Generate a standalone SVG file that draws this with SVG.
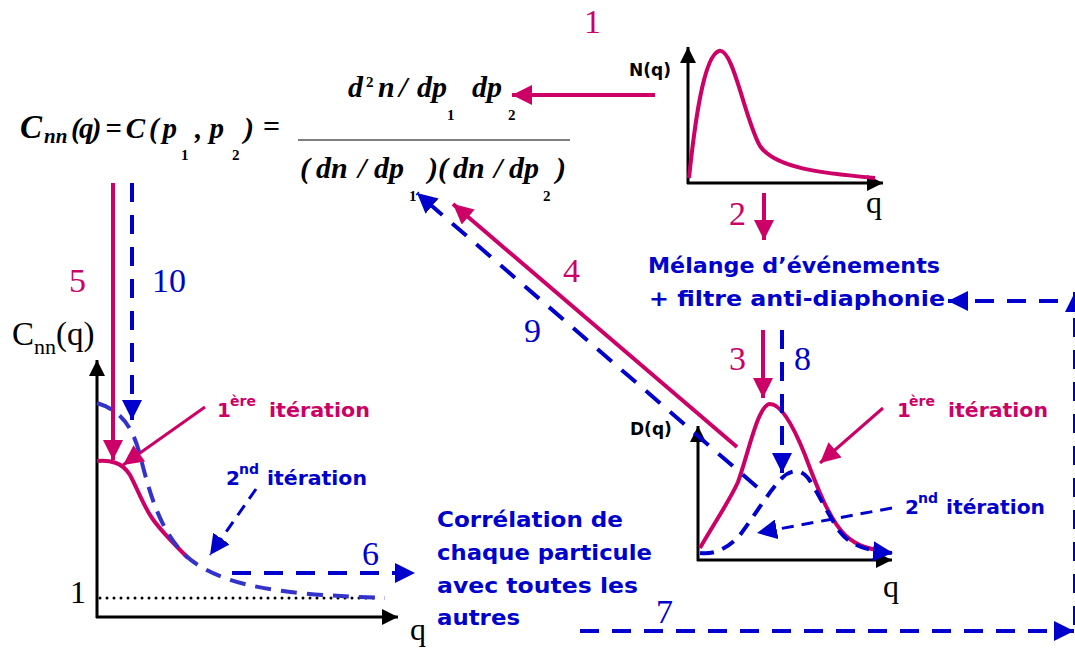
<svg xmlns="http://www.w3.org/2000/svg" width="1075" height="653" viewBox="0 0 1075 653">
<style>
.num{font-family:"Liberation Serif",serif;font-size:34px}
.m{fill:#CC0066}
.b{fill:#0000CC}
.q{font-family:"Liberation Serif",serif;font-size:32px;fill:#000}
.f{font-family:"Liberation Serif",serif;font-weight:bold;font-style:italic;font-size:30px;fill:#000}
.fs{font-family:"Liberation Serif",serif;font-weight:bold;font-size:15px;fill:#000}
.lab{font-family:"DejaVu Sans",sans-serif;font-weight:bold;font-size:17px;fill:#000}
.cs{font-family:"DejaVu Sans",sans-serif;font-weight:bold;font-size:22px}
.it{font-family:"DejaVu Sans",sans-serif;font-weight:bold;font-size:20px}
.sup{font-family:"DejaVu Sans",sans-serif;font-weight:bold;font-size:14px}
.ma{stroke:#CC0066;stroke-width:4;fill:none}
.ma3{stroke:#CC0066;stroke-width:3;fill:none}
.bd{stroke:#0000CC;stroke-width:4;fill:none;stroke-dasharray:19 13}
.bd3{stroke:#0000CC;stroke-width:3;fill:none;stroke-dasharray:12 8}
.ax{stroke:#000;stroke-width:3;fill:none}
</style>
<defs>
<marker id="am" viewBox="0 0 10 10" refX="10" refY="5" markerWidth="22" markerHeight="20" markerUnits="userSpaceOnUse" orient="auto"><path d="M0,0 L10,5 L0,10 z" fill="#CC0066"/></marker>
<marker id="ab" viewBox="0 0 10 10" refX="10" refY="5" markerWidth="20" markerHeight="20" markerUnits="userSpaceOnUse" orient="auto"><path d="M0,0 L10,5 L0,10 z" fill="#0000CC"/></marker>
<marker id="ak" viewBox="0 0 10 10" refX="10" refY="5" markerWidth="18" markerHeight="16" markerUnits="userSpaceOnUse" orient="auto"><path d="M0,0 L10,5 L0,10 z" fill="#000"/></marker>
</defs>
<rect width="1075" height="653" fill="#fff"/>

<g id="formula">
<text class="f" x="20" y="138" style="font-size:33px">C</text>
<text class="f" x="44" y="143" style="font-size:21px">nn</text>
<text class="f" x="71" y="138" style="font-size:29px" textLength="106" lengthAdjust="spacing">(q) = C ( p</text>
<text class="fs" x="181" y="160">1</text>
<text class="f" x="195" y="138" style="font-size:29px">, p</text>
<text class="fs" x="232" y="160">2</text>
<text class="f" x="244" y="138">)</text>
<text x="263" y="136" style="font-family:'Liberation Serif',serif;font-size:30px;font-weight:bold">=</text>
<text class="f" x="348" y="97">d</text>
<text class="fs" x="366" y="87">2</text>
<text class="f" x="378" y="97">n</text>
<text class="f" x="399" y="97">/</text>
<text class="f" x="417" y="97">dp</text>
<text class="fs" x="447" y="120">1</text>
<text class="f" x="472" y="97">dp</text>
<text class="fs" x="508" y="120">2</text>
<line x1="298" y1="140" x2="570" y2="140" stroke="#555" stroke-width="1.5"/>
<text class="f" x="300" y="178">(</text>
<text class="f" x="316" y="178">dn</text>
<text class="f" x="358" y="178">/</text>
<text class="f" x="374" y="178">dp</text>
<text class="fs" x="409" y="201">1</text>
<text class="f" x="428" y="178">)(</text>
<text class="f" x="453" y="178">dn</text>
<text class="f" x="494" y="178">/</text>
<text class="f" x="509" y="178">dp</text>
<text class="fs" x="543" y="201">2</text>
<text class="f" x="556" y="178">)</text>
</g>

<g id="chart-N">
<line class="ax" x1="688" y1="184" x2="688" y2="47" marker-end="url(#ak)"/>
<line class="ax" x1="687" y1="183" x2="883" y2="183" marker-end="url(#ak)"/>
<path class="ma" d="M689,178 C694,130 703,56 719,51 C733,47 745,120 760,146 C775,168 820,173 875,178"/>
<text class="lab" x="629" y="76">N(q)</text>
<text class="q" x="866" y="213">q</text>
</g>

<g id="label-melange">
<text class="cs b" x="648" y="273" textLength="292" lengthAdjust="spacingAndGlyphs">Mélange d’événements</text>
<text class="cs b" x="649" y="306" textLength="296" lengthAdjust="spacingAndGlyphs">+ filtre anti-diaphonie</text>
</g>

<g id="chart-D">
<line class="ax" x1="698" y1="561" x2="698" y2="426" marker-end="url(#ak)"/>
<line class="ax" x1="697" y1="560" x2="892" y2="560" marker-end="url(#ak)"/>
<path class="ma" d="M700,548 C715,522 730,500 738,482 C748,455 758,404 770,404 C782,404 795,430 805,455 C818,490 830,520 845,535 C858,547 870,549 883,551"/>
<path class="bd" style="stroke-dasharray:14 9" d="M700,553 C715,555 728,548 740,535 C755,515 770,490 782,478 C790,470 800,468 808,478 C818,492 828,515 840,532 C852,547 870,551 893,553" marker-end="url(#ab)"/>
<text class="lab" x="630" y="435">D(q)</text>
<text class="q" x="883" y="597">q</text>
<text class="it m" x="897" y="417">1</text>
<text class="sup m" x="909" y="406">ère</text>
<text class="it m" x="948" y="417" textLength="100" lengthAdjust="spacingAndGlyphs">itération</text>
<line class="ma3" x1="883" y1="408" x2="820" y2="463" marker-end="url(#am)"/>
<text class="it b" x="905" y="514">2</text>
<text class="sup b" x="918" y="503">nd</text>
<text class="it b" x="946" y="514" textLength="99" lengthAdjust="spacingAndGlyphs">itération</text>
<line class="bd3" x1="892" y1="508" x2="757" y2="533" marker-end="url(#ab)"/>
</g>

<g id="chart-Cnn">
<line class="ax" x1="97" y1="618" x2="97" y2="360" marker-end="url(#ak)"/>
<line class="ax" x1="96" y1="617" x2="398" y2="617" marker-end="url(#ak)"/>
<line x1="100" y1="598" x2="378" y2="598" stroke="#000" stroke-width="3" stroke-linecap="round" stroke-dasharray="0 7"/>
<path class="ma" d="M97,461 C110,460 122,462 130,475 C138,490 143,505 152,518 C160,530 175,545 188,558"/>
<path class="bd" style="stroke:#3333CC;stroke-dasharray:16 10" d="M97,403 C120,410 132,425 140,455 C150,495 160,530 185,555 C210,578 250,588 300,593 C330,596 360,597 385,598"/>
<text x="12" y="345" style="font-family:'Liberation Serif',serif;font-size:33px">C<tspan dy="9" style="font-size:22px">nn</tspan><tspan dy="-9">(q)</tspan></text>
<text class="q" x="70" y="603">1</text>
<text class="q" x="410" y="640">q</text>
<text class="it m" x="217" y="417">1</text>
<text class="sup m" x="230" y="406">ère</text>
<text class="it m" x="269" y="417" textLength="101" lengthAdjust="spacingAndGlyphs">itération</text>
<line class="ma3" x1="205" y1="407" x2="123" y2="465" marker-end="url(#am)"/>
<text class="it b" x="226" y="485">2</text>
<text class="sup b" x="239" y="474">nd</text>
<text class="it b" x="267" y="485" textLength="100" lengthAdjust="spacingAndGlyphs">itération</text>
<line class="bd3" x1="256" y1="489" x2="210" y2="555" marker-end="url(#ab)"/>
</g>

<g id="label-correlation">
<text class="cs b" x="437" y="527" textLength="186" lengthAdjust="spacingAndGlyphs">Corrélation de</text>
<text class="cs b" x="437" y="560" textLength="215" lengthAdjust="spacingAndGlyphs">chaque particule</text>
<text class="cs b" x="437" y="593" textLength="201" lengthAdjust="spacingAndGlyphs">avec toutes les</text>
<text class="cs b" x="437" y="625" textLength="83" lengthAdjust="spacingAndGlyphs">autres</text>
</g>

<g id="connectors">
<line class="ma" x1="655" y1="95" x2="512" y2="95" marker-end="url(#am)"/>
<line class="ma" x1="764" y1="193" x2="764" y2="240" marker-end="url(#am)"/>
<line class="ma" x1="763" y1="330" x2="763" y2="398" marker-end="url(#am)"/>
<line class="bd" x1="782" y1="330" x2="782" y2="473" marker-end="url(#ab)"/>
<line class="ma" x1="737" y1="447" x2="453" y2="204" marker-end="url(#am)"/>
<line class="bd" x1="757" y1="487" x2="417" y2="193" marker-end="url(#ab)"/>
<line class="ma" x1="113" y1="183" x2="113" y2="460" marker-end="url(#am)"/>
<line class="bd" x1="132" y1="183" x2="132" y2="420" marker-end="url(#ab)"/>
<line class="bd" x1="232" y1="573" x2="415" y2="573" marker-end="url(#ab)"/>
<line class="bd" x1="580" y1="631" x2="1074" y2="631" marker-end="url(#ab)"/>
<line class="bd" x1="1075" y1="625" x2="1075" y2="292" marker-end="url(#ab)"/>
<line class="bd" x1="1058" y1="301" x2="948" y2="301" marker-end="url(#ab)"/>
</g>

<g id="step-numbers">
<text class="num m" x="584" y="33">1</text>
<text class="num m" x="729" y="225">2</text>
<text class="num m" x="729" y="370">3</text>
<text class="num m" x="563" y="282">4</text>
<text class="num m" x="69" y="292">5</text>
<text class="num b" x="362" y="565">6</text>
<text class="num b" x="656" y="623">7</text>
<text class="num b" x="794" y="370">8</text>
<text class="num b" x="524" y="342">9</text>
<text class="num b" x="152" y="292">10</text>
</g>
</svg>
